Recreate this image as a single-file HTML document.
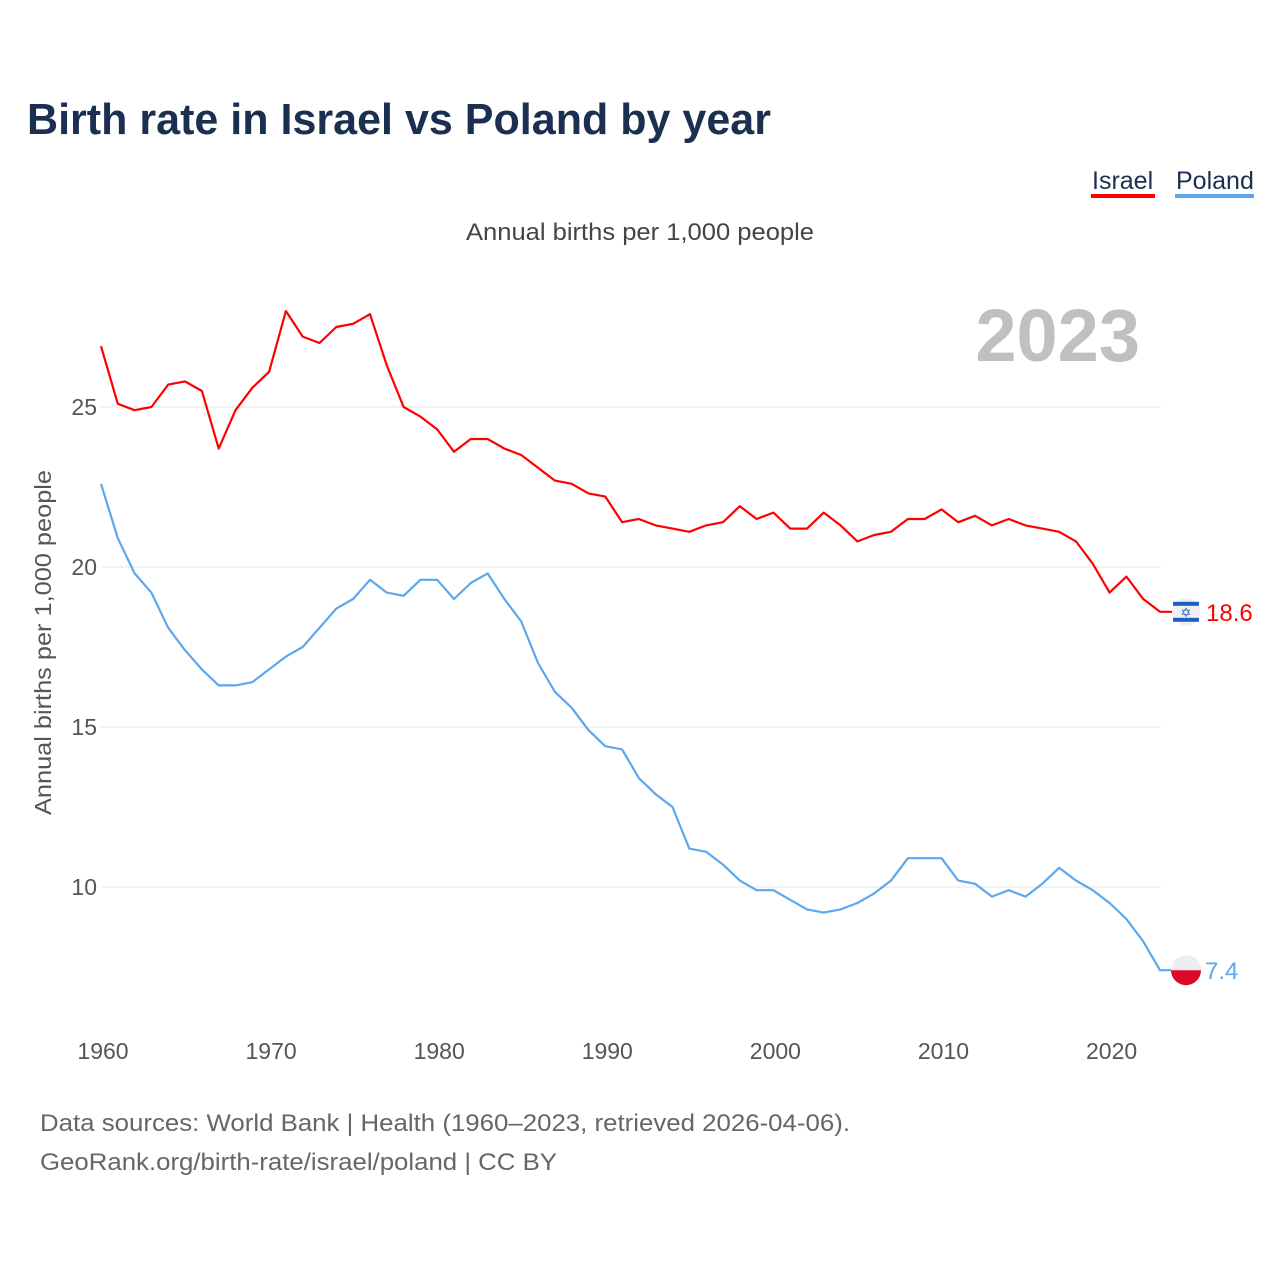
<!DOCTYPE html>
<html><head><meta charset="utf-8">
<style>
body{margin:0;background:#fff;}
svg{display:block;font-family:"Liberation Sans",sans-serif;}
</style></head>
<body>
<svg id="chart" width="1280" height="1280" viewBox="0 0 1280 1280">
<text x="27" y="134" font-size="44" font-weight="bold" fill="#1b3050" textLength="744" lengthAdjust="spacingAndGlyphs">Birth rate in Israel vs Poland by year</text>
<g>
<text x="1092" y="189" font-size="25" fill="#1b3050">Israel</text>
<rect x="1091" y="194" width="64" height="4" fill="#ff0000"/>
<text x="1176" y="189" font-size="25" fill="#1b3050">Poland</text>
<rect x="1175" y="194" width="79" height="4" fill="#5ca7ee"/>
</g>
<text x="466" y="240" font-size="24" fill="#444" textLength="348" lengthAdjust="spacingAndGlyphs">Annual births per 1,000 people</text>
<text x="1140" y="361" font-size="74" font-weight="bold" fill="#c0c0c0" text-anchor="end">2023</text>
<text transform="translate(51,815) rotate(-90)" font-size="23" fill="#555" textLength="345" lengthAdjust="spacingAndGlyphs">Annual births per 1,000 people</text>
<g id="grid"></g><g id="series"></g>
<text x="40" y="1131" font-size="24" fill="#666" textLength="810" lengthAdjust="spacingAndGlyphs">Data sources: World Bank | Health (1960–2023, retrieved 2026-04-06).</text>
<text x="40" y="1170" font-size="24" fill="#666" textLength="517" lengthAdjust="spacingAndGlyphs">GeoRank.org/birth-rate/israel/poland | CC BY</text>
</svg>
<script>
const years=[];for(let y=1960;y<=2023;y++)years.push(y);
const israel=[26.9,25.1,24.9,25.0,25.7,25.8,25.5,23.7,24.9,25.6,26.1,28.0,27.2,27.0,27.5,27.6,27.9,26.3,25.0,24.7,24.3,23.6,24.0,24.0,23.7,23.5,23.1,22.7,22.6,22.3,22.2,21.4,21.5,21.3,21.2,21.1,21.3,21.4,21.9,21.5,21.7,21.2,21.2,21.7,21.3,20.8,21.0,21.1,21.5,21.5,21.8,21.4,21.6,21.3,21.5,21.3,21.2,21.1,20.8,20.1,19.2,19.7,19.0,18.6];
const poland=[22.6,20.9,19.8,19.2,18.1,17.4,16.8,16.3,16.3,16.4,16.8,17.2,17.5,18.1,18.7,19.0,19.6,19.2,19.1,19.6,19.6,19.0,19.5,19.8,19.0,18.3,17.0,16.1,15.6,14.9,14.4,14.3,13.4,12.9,12.5,11.2,11.1,10.7,10.2,9.9,9.9,9.6,9.3,9.2,9.3,9.5,9.8,10.2,10.9,10.9,10.9,10.2,10.1,9.7,9.9,9.7,10.1,10.6,10.2,9.9,9.5,9.0,8.3,7.4];
const yTicks=[10,15,20,25];
const xTicks=[1960,1970,1980,1990,2000,2010,2020];
const NS="http://www.w3.org/2000/svg";
const X=yr=>101+(yr-1960)*(1160-101)/63;
const Y=v=>407+(25-v)*32;
function mk(t,a,p){const e=document.createElementNS(NS,t);for(const k in a)e.setAttribute(k,a[k]);p.appendChild(e);return e;}
const grid=document.getElementById('grid'),ser=document.getElementById('series');
yTicks.forEach(v=>{
 const l=mk('line',{x1:101,x2:1161,y1:Y(v),y2:Y(v),stroke:'#e6e6e6','stroke-width':1},grid);
 
 
 const t=mk('text',{x:97,y:Y(v)+8,'font-size':23,fill:'#555','text-anchor':'end'},grid);t.textContent=v;
 
 
});
xTicks.forEach(v=>{
 const t=mk('text',{x:X(v)+2,y:1059,'font-size':23,fill:'#555','text-anchor':'middle'},grid);t.textContent=v;
 
 
});
function draw(vals,color,name){
 const pts=vals.map((v,i)=>X(years[i]).toFixed(1)+','+Y(vals[i]).toFixed(1));
 const last=vals[vals.length-1];
 pts.push('1172,'+Y(last).toFixed(1));
 const p=mk('polyline',{points:pts.join(' '),fill:'none',stroke:color,'stroke-width':2.2,'stroke-linejoin':'round'},ser);
 
 
 return Y(last);
}
const yi=draw(israel,'#ff0000','israel');
const yp=draw(poland,'#5ca7ee','poland');
const fi=mk('g',{},ser);


mk('circle',{cx:1186,cy:yi,r:14,fill:'#f0f0f0'},fi);
mk('rect',{x:1173,y:yi-10,width:26,height:4,fill:'#1a5fc1'},fi);
mk('rect',{x:1173,y:yi+6,width:26,height:4,fill:'#1a5fc1'},fi);
const st=mk('text',{x:1186,y:yi+5,'font-size':13,fill:'#1a5fc1','text-anchor':'middle'},fi);st.textContent='✡';
const li=mk('text',{x:1206,y:yi+9,'font-size':24,fill:'#ff0000'},ser);li.textContent=israel[israel.length-1].toFixed(1);


const fp=mk('g',{},ser);


mk('circle',{cx:1186,cy:yp,r:15,fill:'#eeeeee'},fp);
mk('path',{d:`M1171,${yp} A15,15 0 0 0 1201,${yp} Z`,fill:'#dc0a2a'},fp);
const lp=mk('text',{x:1205,y:yp+9,'font-size':24,fill:'#5ca7ee'},ser);lp.textContent=poland[poland.length-1].toFixed(1);


</script>
</body></html>
